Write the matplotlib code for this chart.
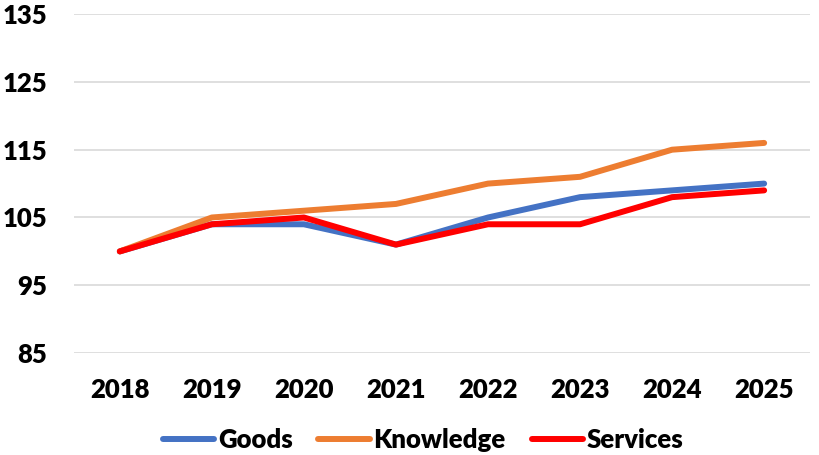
import numpy as np
import matplotlib.pyplot as plt

# index values, 2018 = 100
years = ['2018', '2019', '2020', '2021', '2022', '2023', '2024', '2025']
goods = [100, 104, 104, 101, 105, 108, 109, 110]
knowledge = [100, 105, 106, 107, 110, 111, 115, 116]
services = [100, 104, 105, 101, 104, 104, 108, 109]

plt.rcParams['font.family'] = ['Lato', 'DejaVu Sans']
plt.rcParams['font.weight'] = 'heavy'

fig = plt.figure(figsize=(8.2, 4.55), dpi=100)
ax = fig.add_axes([0.090, 0.224, 0.898, 0.745])

x = np.arange(len(years))
ax.plot(x, goods, color='#4472C4', lw=4.3, solid_capstyle='round', label='Goods')
ax.plot(x, knowledge, color='#ED7D31', lw=4.3, solid_capstyle='round', label='Knowledge')
ax.plot(x, services, color='#FF0000', lw=4.3, solid_capstyle='round', label='Services')

ax.set_xlim(-0.5, len(years) - 0.5)
ax.set_ylim(85, 135)
ax.set_yticks(range(85, 136, 10))
ax.set_xticks(x)
ax.set_xticklabels(years)
ax.grid(axis='y', color='#d9d9d9', lw=1.2)
ax.set_axisbelow(True)
for s in ax.spines.values():
    s.set_visible(False)
ax.tick_params(axis='both', length=0, labelsize=18.5)
ax.tick_params(axis='y', pad=19)
ax.tick_params(axis='x', pad=18)

fig.legend(loc='center', bbox_to_anchor=(0.516, 0.033), ncol=3, frameon=False,
           fontsize=18.5, handlelength=2.0, handletextpad=0.15, columnspacing=1.0)

fig.savefig('out.png', dpi=100)
